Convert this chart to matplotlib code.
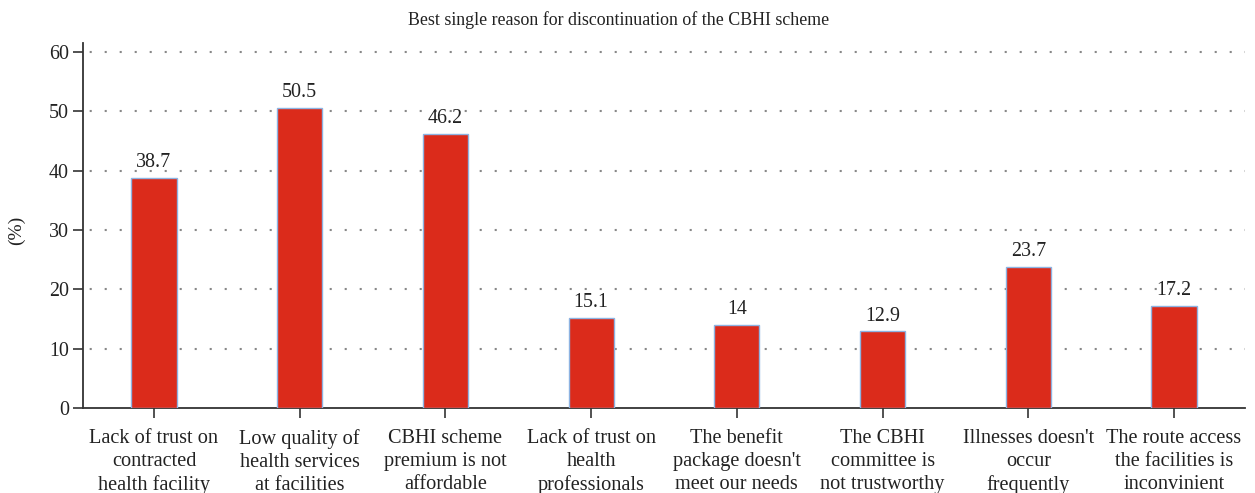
import matplotlib
matplotlib.use("Agg")
import matplotlib.pyplot as plt

categories = [
    "Lack of trust on\ncontracted\nhealth facility",
    "Low quality of\nhealth services\nat facilities",
    "CBHI scheme\npremium is not\naffordable",
    "Lack of trust on\nhealth\nprofessionals",
    "The benefit\npackage doesn't\nmeet our needs",
    "The CBHI\ncommittee is\nnot trustworthy",
    "Illnesses doesn't\noccur\nfrequently",
    "The route access\nthe facilities is\ninconvinient",
]
values = [38.7, 50.5, 46.2, 15.1, 14, 12.9, 23.7, 17.2]
value_labels = ["38.7", "50.5", "46.2", "15.1", "14", "12.9", "23.7", "17.2"]
yticks = [0, 10, 20, 30, 40, 50, 60]
title = "Best single reason for discontinuation of the CBHI scheme"
ylabel = "(%)"

plt.rcParams['font.family'] = ['Liberation Serif', 'DejaVu Serif']

fig = plt.figure(figsize=(12.55, 4.93), dpi=100)
ax = fig.add_axes([83/1255, 1-408/493, (1245-83)/1255, (408-43)/493])

x = list(range(len(values)))
ax.bar(x, values, width=0.31, color="#db2b1b", edgecolor="#8db3e2", linewidth=1.0, zorder=3)
for xi, v, lab in zip(x, values, value_labels):
    ax.text(xi, v + 1.0, lab, ha="center", va="bottom", fontsize=14.4, color="#222222")

ax.set_xlim(-0.487, 7.487)
ax.set_ylim(0, 61.5)
ax.set_yticks(yticks)
ax.set_yticklabels([str(t) for t in yticks], fontsize=14.4, color="#222222")
ax.set_xticks(x)
ax.set_xticklabels(categories, fontsize=14.6, linespacing=1.3, color="#222222")
ax.tick_params(axis="both", direction="out", length=7, width=1.2, color="#333333")
ax.tick_params(axis="x", pad=8)
ax.tick_params(axis="y", pad=3)

for t in yticks[1:]:
    ax.axhline(t, color="#888888", linestyle=(4, (1, 6.2)), linewidth=1.5, zorder=1)

for s in ["top", "right"]:
    ax.spines[s].set_visible(False)
for s in ["left", "bottom"]:
    ax.spines[s].set_linewidth(1.3)
    ax.spines[s].set_color("#333333")

ax.set_ylabel(ylabel, fontsize=14, color="#222222")
ax.yaxis.set_label_coords((25-83)/(1245-83), 1-(230-43)/(408-43))
fig.text(619/1255, 1-20/493, title, ha="center", va="center", fontsize=12.9, color="#222222")

fig.savefig("out.png", dpi=100)
